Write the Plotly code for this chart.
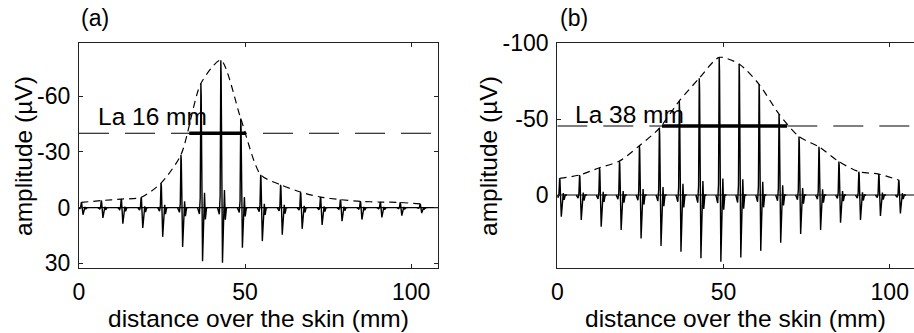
import plotly.graph_objects as go

# electrode positions along the skin (mm)
POS = [0.7, 6.7, 12.7, 18.7, 24.7, 30.7, 36.7, 42.7, 48.7, 54.7, 60.7,
       66.7, 72.7, 78.7, 84.7, 90.7, 96.7, 102.7]

# panel (a): negative (upward) and positive (downward) peak amplitudes, uV
A_NEG = [-2.8, -3.8, -4.6, -5.5, -13.2, -28.4, -66.8, -79.3, -48.0, -17.7,
         -12.3, -8.4, -5.7, -4.3, -3.4, -3.0, -2.8, -2.0]
A_POS = [3.8, 5.5, 8.6, 10.9, 15.7, 21.1, 28.8, 29.6, 21.6, 18.0, 14.5,
         11.4, 9.3, 7.3, 6.4, 5.2, 4.3, 2.9]
A_THRESH = -40.0
A_BAR = [33.2, 50.3]
A_LABEL = "La 16 mm"

# panel (b)
B_NEG = [-11.0, -13.2, -18.0, -22.4, -32.5, -44.0, -62.0, -77.0, -90.7,
         -86.4, -73.0, -53.4, -38.5, -31.8, -22.0, -15.4, -13.8, -9.9]
B_POS = [14.3, 16.5, 20.9, 23.1, 28.6, 33.6, 37.3, 41.7, 44.0, 41.1, 36.8,
         31.5, 25.7, 23.1, 18.2, 16.5, 13.8, 12.1]
B_THRESH = -45.5
B_BAR = [31.5, 69.1]
B_LABEL = "La 38 mm"

X_TICKS = [0, 50, 100]
A_YTICKS = [-60, -30, 0, 30]
B_YTICKS = [-100, -50, 0]

# shape of one potential (time axis compressed into mm), weights of the peaks
WAVE_DX = [-1.0, -0.45, -0.2, 0.0, 0.1, 0.5, 1.1, 1.35, 1.7, 2.2]
WAVE_NEG_W = [0, 0, 0.08, 1.0, 0.9, 0, 0.12, 0, 0, 0]
WAVE_POS_W = [0, 0.12, 0, 0, 0, 1.0, 0, 0.22, 0, 0]

FONT = "Liberation Sans, Arial, Helvetica, sans-serif"
W, H = 914, 333

fig = go.Figure()


def add_panel(xa, ya, neg, pos, thresh, bar, xmax):
    ax = dict(xaxis=xa, yaxis=ya, showlegend=False, hoverinfo="skip")
    fig.add_trace(go.Scatter(x=[0, xmax], y=[0, 0], mode="lines",
                             line=dict(color="black", width=1.2), **ax))
    fig.add_trace(go.Scatter(x=[0, xmax], y=[thresh, thresh], mode="lines",
                             line=dict(color="black", width=1.1, dash="30px,16px"), **ax))
    fig.add_trace(go.Scatter(x=POS, y=neg, mode="lines",
                             line=dict(color="black", width=1.2, dash="7px,5px",
                                       shape="spline", smoothing=0.7), **ax))
    wx, wy = [], []
    for p, n, q in zip(POS, neg, pos):
        for dx, a, b in zip(WAVE_DX, WAVE_NEG_W, WAVE_POS_W):
            wx.append(p + dx)
            wy.append(a * n + b * q)
        wx.append(None)
        wy.append(None)
    fig.add_trace(go.Scatter(x=wx, y=wy, mode="lines",
                             line=dict(color="black", width=1.4), **ax))
    fig.add_trace(go.Scatter(x=bar, y=[thresh, thresh], mode="lines",
                             line=dict(color="black", width=3.5), **ax))


A_XMAX = 108.1
B_XMAX = 107.3
add_panel("x", "y", A_NEG, A_POS, A_THRESH, A_BAR, A_XMAX)
add_panel("x2", "y2", B_NEG, B_POS, B_THRESH, B_BAR, B_XMAX)

common_x = dict(tickvals=X_TICKS, ticktext=[str(v) for v in X_TICKS],
                ticks="inside", ticklen=4, tickcolor="#222", showline=True,
                linecolor="#222", linewidth=1.2, showgrid=False, zeroline=False,
                tickfont=dict(family=FONT, size=23, color="black"),
                mirror="ticks", ticklabelstandoff=4, automargin=False)
common_y = dict(ticks="inside", ticklen=4, tickcolor="#222", showline=True,
                linecolor="#222", linewidth=1.2, showgrid=False, zeroline=False,
                tickfont=dict(family=FONT, size=23, color="black"),
                ticklabelstandoff=3, automargin=False)

fig.update_layout(
    width=W, height=H, margin=dict(l=0, r=0, t=0, b=0, autoexpand=False),
    paper_bgcolor="white", plot_bgcolor="white",
    xaxis=dict(domain=[79 / W, 438 / W], range=[0, A_XMAX], anchor="y", **common_x),
    yaxis=dict(domain=[1 - 267.7 / H, 1 - 43.3 / H], range=[32.3, -88.4], anchor="x",
               tickvals=A_YTICKS, ticktext=[str(v) for v in A_YTICKS],
               mirror="ticks", **common_y),
    xaxis2=dict(domain=[557.3 / W, 1.0], range=[0, B_XMAX], anchor="y2", **common_x),
    yaxis2=dict(domain=[1 - 267.7 / H, 1 - 43.3 / H], range=[47.9, -100], anchor="x2",
                tickvals=B_YTICKS, ticktext=[str(v) for v in B_YTICKS],
                mirror=False, **common_y),
)

ann = []
tf = dict(family=FONT, size=24.5, color="black")
ann.append(dict(text="(a)", x=79 / W, y=1 - 18 / H, xref="paper", yref="paper",
                xanchor="left", yanchor="middle", showarrow=False,
                font=dict(family=FONT, size=23, color="black")))
ann.append(dict(text="(b)", x=558 / W, y=1 - 18 / H, xref="paper", yref="paper",
                xanchor="left", yanchor="middle", showarrow=False,
                font=dict(family=FONT, size=23, color="black")))
ann.append(dict(text=A_LABEL, x=5.0, y=-48.8, xref="x", yref="y",
                xanchor="left", yanchor="middle", showarrow=False, font=tf))
ann.append(dict(text=B_LABEL, x=4.6, y=-53.2, xref="x2", yref="y2",
                xanchor="left", yanchor="middle", showarrow=False, font=tf))
for cx in (258, 735):
    ann.append(dict(text="distance over the skin (mm)", x=cx / W, y=1 - 318 / H,
                    xref="paper", yref="paper", xanchor="center", yanchor="middle",
                    showarrow=False, font=tf))
for cx in (23, 488):
    ann.append(dict(text="amplitude (µV)", x=cx / W, y=1 - 156 / H,
                    xref="paper", yref="paper", xanchor="center", yanchor="middle",
                    textangle=-90, showarrow=False, font=tf))
fig.update_layout(annotations=ann)

fig.write_html("out.html")
